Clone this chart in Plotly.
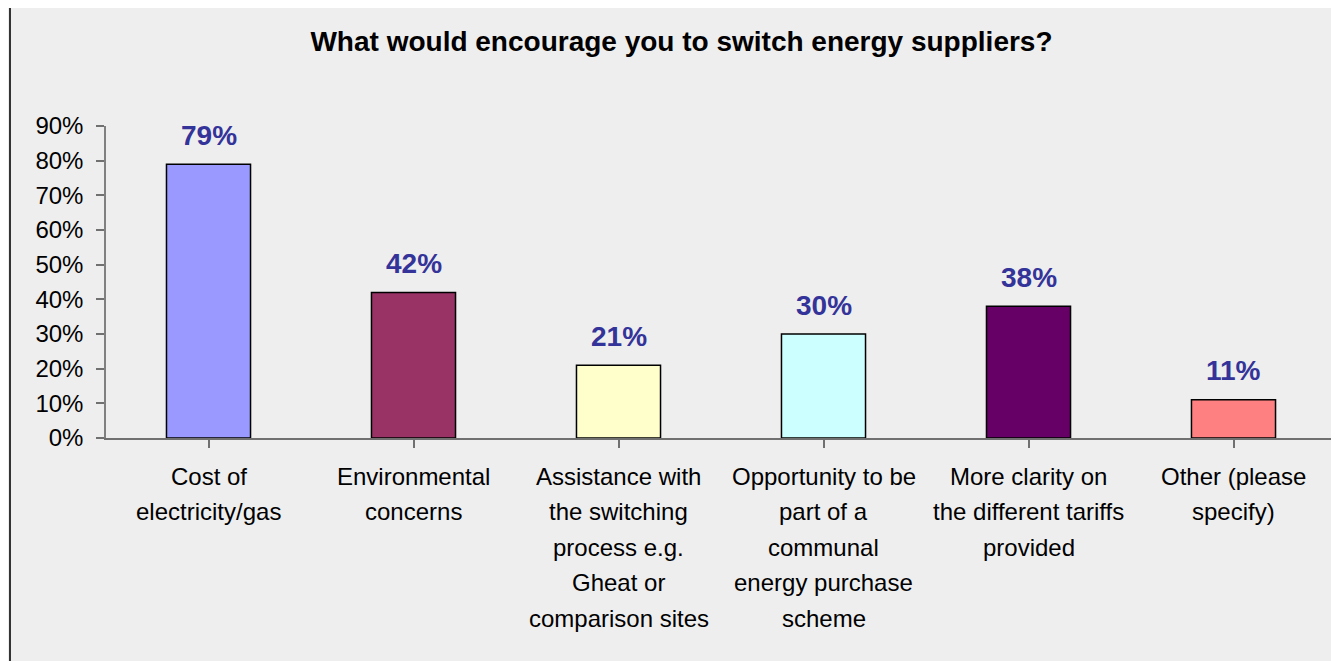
import plotly.graph_objects as go

categories = [
    "Cost of<br>electricity/gas",
    "Environmental<br>concerns",
    "Assistance with<br>the switching<br>process e.g.<br>Gheat or<br>comparison sites",
    "Opportunity to be<br>part of a<br>communal<br>energy purchase<br>scheme",
    "More clarity on<br>the different tariffs<br>provided",
    "Other (please<br>specify)",
]
values = [79, 42, 21, 30, 38, 11]
bar_colors = ["#9999FF", "#993366", "#FFFFCC", "#CCFFFF", "#660066", "#FF8080"]
y_ticks = [0, 10, 20, 30, 40, 50, 60, 70, 80, 90]
y_tick_labels = [f"{v}%" for v in y_ticks]
title_text = "What would encourage you to switch energy suppliers?"

OFF = 8  # browser default body margin
W, H = 1339, 661
# page-pixel positions of the plot area
PL, PR, PT, PB = 106, 1336, 126, 438
ML, MT = PL - OFF, PT - OFF
MR = W - (PR - OFF)
MB = H - (PB - OFF)
PW = PR - PL
PH = PB - PT

FONT = "Liberation Sans, Arial, sans-serif"

fig = go.Figure()
fig.add_trace(go.Bar(
    x=list(range(len(categories))),
    y=values,
    width=0.41,
    marker=dict(color=bar_colors, line=dict(color="#000000", width=1.5)),
    hoverinfo="skip",
))

annotations = []
for i, v in enumerate(values):
    annotations.append(dict(
        x=i, y=v, xref="x", yref="y", text=f"<b>{v}%</b>", showarrow=False,
        yanchor="middle", yshift=29,
        font=dict(family=FONT, size=28, color="#333399"),
    ))
for i, cat in enumerate(categories):
    for j, line in enumerate(cat.split("<br>")):
        annotations.append(dict(
            x=i, y=0, xref="x", yref="y", text=line, showarrow=False,
            yanchor="middle", yshift=-(38 + j * 35.5),
            font=dict(family=FONT, size=24, color="#000000"),
        ))

def px_x(p):  # page pixel -> paper
    return (p - PL) / PW

def px_y(p):
    return (PB - p) / PH

shapes = [
    dict(type="line", xref="paper", yref="paper",
         x0=px_x(10), x1=px_x(10), y0=px_y(6), y1=px_y(700),
         line=dict(color="#333333", width=2)),
    dict(type="line", xref="paper", yref="paper",
         x0=px_x(9), x1=px_x(1400), y0=px_y(6), y1=px_y(6),
         line=dict(color="#333333", width=2)),
]

fig.update_layout(
    width=W, height=H,
    margin=dict(l=ML, r=MR, t=MT, b=MB, pad=0),
    paper_bgcolor="#EEEEEE",
    plot_bgcolor="#EEEEEE",
    showlegend=False,
    title=dict(
        text=f"<b>{title_text}</b>",
        x=(681.5 - OFF) / W, xref="container", xanchor="center",
        y=1 - (41 - OFF) / H, yref="container", yanchor="middle",
        font=dict(family=FONT, size=28, color="#000000"),
    ),
    xaxis=dict(
        range=[-0.5, len(categories) - 0.5],
        tickmode="array", tickvals=list(range(len(categories))),
        showticklabels=False,
        tickson="boundaries", ticks="outside", ticklen=8, tickcolor="#707070", tickwidth=1.5,
        showline=True, linecolor="#707070", linewidth=1.5,
        showgrid=False, zeroline=False, fixedrange=True,
    ),
    yaxis=dict(
        range=[0, 90],
        tickmode="array", tickvals=y_ticks, ticktext=y_tick_labels,
        ticks="outside", ticklen=8, tickcolor="#707070", tickwidth=1.5,
        showline=True, linecolor="#808080", linewidth=1.5,
        showgrid=False, zeroline=False,
        tickfont=dict(family=FONT, size=24, color="#000000"),
        ticklabelstandoff=8,
        fixedrange=True,
    ),
    annotations=annotations,
    shapes=shapes,
)

fig.write_html("out.html")
